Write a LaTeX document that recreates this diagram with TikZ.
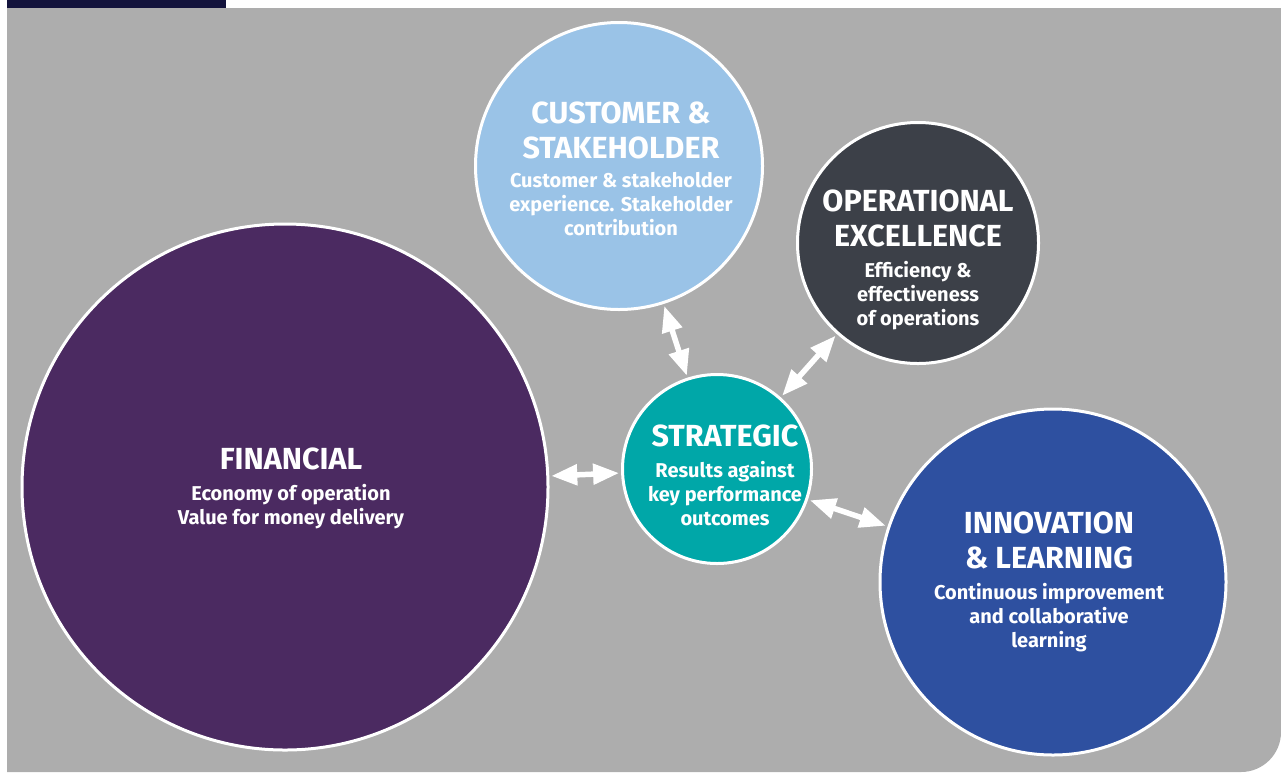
\documentclass[tikz,border=0pt]{standalone}
\usepackage{fontspec}
\setmainfont{Fira Sans}
\usetikzlibrary{arrows.meta,positioning}
\definecolor{panelgray}{HTML}{ADADAD}
\definecolor{navybar}{HTML}{13133C}
\definecolor{finpurple}{HTML}{4B2A61}
\definecolor{custblue}{HTML}{9AC3E7}
\definecolor{opsgrey}{HTML}{3C4048}
\definecolor{stratteal}{HTML}{00A7A8}
\definecolor{innovblue}{HTML}{2E50A0}
\tikzset{
    ball/.style =   {circle,
                    draw=white,
                    line width=3pt,
                    inner sep=0pt},
    head/.style =   {text=white,
                    align=center,
                    inner sep=0pt,
                    font=\bfseries\fontsize{30.5}{35}\selectfont},
    blurb/.style =  {text=white,
                    align=center,
                    inner sep=0pt,
                    font=\bfseries\fontsize{20}{24}\selectfont},
    twoway/.style = {draw=white,
                    fill=white,
                    line width=5.5pt,
                    >={Triangle[width=20pt,length=26pt]},
                    <->,
                    shorten >=2pt,
                    shorten <=2pt},
    node distance=13pt}

\begin{document}
\begin{tikzpicture}[x=1pt,y=-1pt]
    \useasboundingbox (0,0) rectangle (1281,772);
    % panel
    \fill[panelgray] (7,8) -- (1281,8) -- (1281,732)
        arc[start angle=0,end angle=90,radius=40] -- (7,772) -- cycle;
    \fill[navybar] (7,0) rectangle (226,7.5);

    % the five circles
    \node[ball,fill=finpurple,minimum size=526pt]   (fin)   at (285,487) {};
    \node[ball,fill=custblue,minimum size=287pt]    (cust)  at (619,166) {};
    \node[ball,fill=opsgrey,minimum size=241pt]     (ops)   at (918,243) {};
    \node[ball,fill=stratteal,minimum size=189pt]   (strat) at (717,469) {};
    \node[ball,fill=innovblue,minimum size=346pt]   (innov) at (1053,582) {};

    % texts
    \node[head,anchor=north]  (finhead)   at (291,448)  {FINANCIAL};
    \node[blurb]              (finbody)   [below=of finhead]   {Economy of operation\\Value for money delivery};
    \node[head,anchor=north]  (custhead)  at (621,102)  {CUSTOMER \&\\STAKEHOLDER};
    \node[blurb]              (custbody)  [below=of custhead]  {Customer \& stakeholder\\experience. Stakeholder\\contribution};
    \node[head,anchor=north]  (opshead)   at (918,190)  {OPERATIONAL\\EXCELLENCE};
    \node[blurb]              (opsbody)   [below=of opshead]   {Efficiency \&\\effectiveness\\of operations};
    \node[head,anchor=north]  (strathead) at (725,425)  {STRATEGIC};
    \node[blurb]              (stratbody) [below=of strathead] {Results against\\key performance\\outcomes};
    \node[head,anchor=north]  (innovhead) at (1049,512) {INNOVATION\\\& LEARNING};
    \node[blurb]              (innovbody) [below=of innovhead] {Continuous improvement\\and collaborative\\learning};

    % links
    \path[twoway] (fin) edge (strat)
                  (cust) edge (strat)
                  (ops) edge (strat)
                  (strat) edge (innov);
\end{tikzpicture}
\end{document}
